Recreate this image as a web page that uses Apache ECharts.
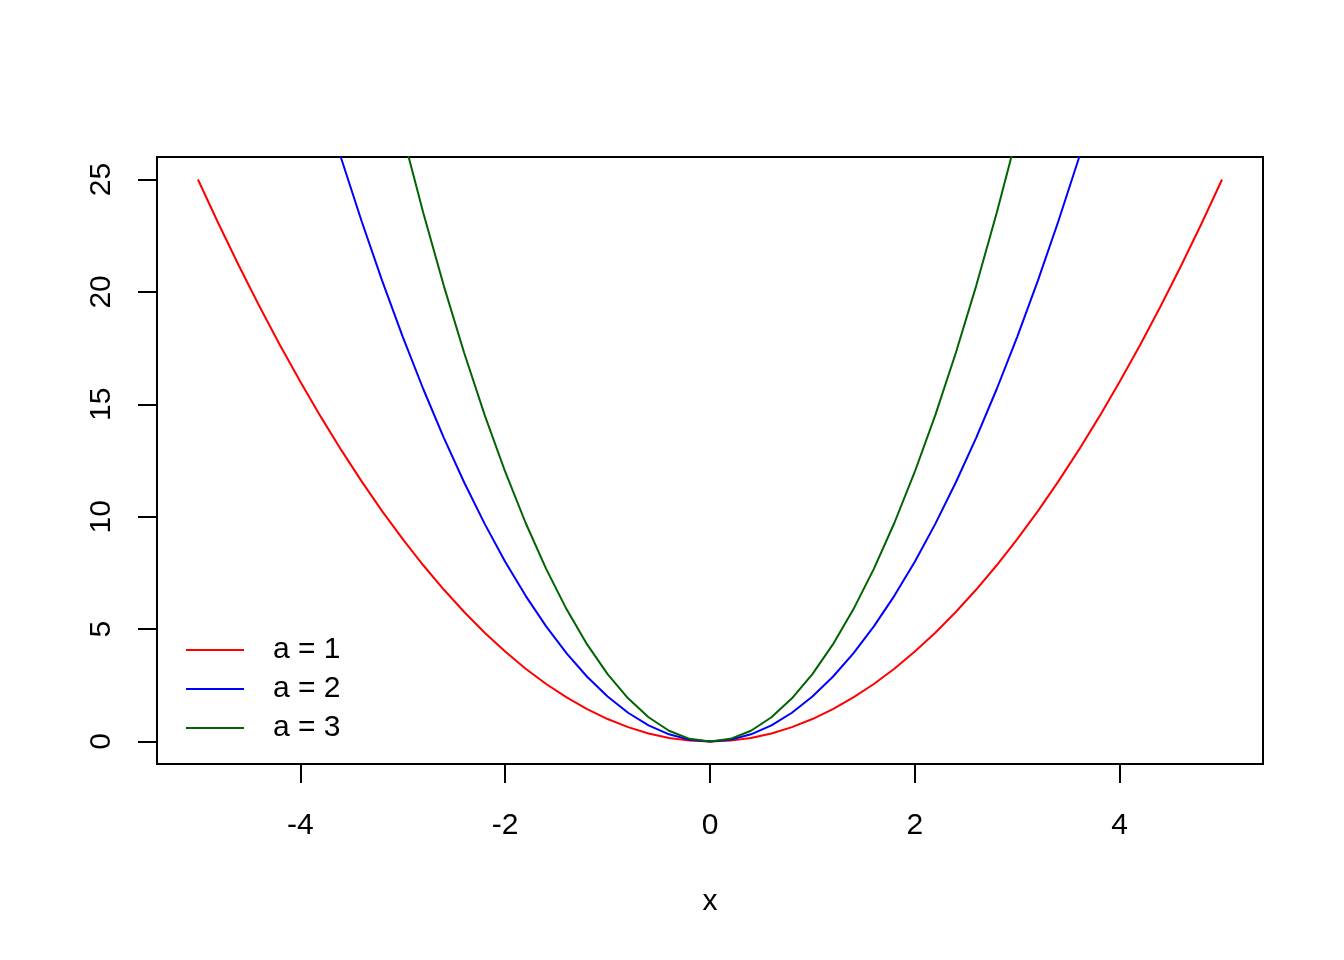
<!DOCTYPE html>
<html>
<head>
<meta charset="utf-8">
<script src="https://cdn.jsdelivr.net/npm/echarts@6/dist/echarts.min.js"></script>
<style>html,body{margin:0;padding:0;background:#fff;}#c{width:1344px;height:960px;}</style>
</head>
<body>
<div id="c"></div>
<script>
const xValues = [-5,-4.8,-4.6,-4.4,-4.2,-4,-3.8,-3.6,-3.4,-3.2,-3,-2.8,-2.6,-2.4,-2.2,-2,-1.8,-1.6,-1.4,-1.2,-1,-0.8,-0.6,-0.4,-0.2,0,0.2,0.4,0.6,0.8,1,1.2,1.4,1.6,1.8,2,2.2,2.4,2.6,2.8,3,3.2,3.4,3.6,3.8,4,4.2,4.4,4.6,4.8,5];
const yA1 = [25,23.04,21.16,19.36,17.64,16,14.44,12.96,11.56,10.24,9,7.84,6.76,5.76,4.84,4,3.24,2.56,1.96,1.44,1,0.64,0.36,0.16,0.04,0,0.04,0.16,0.36,0.64,1,1.44,1.96,2.56,3.24,4,4.84,5.76,6.76,7.84,9,10.24,11.56,12.96,14.44,16,17.64,19.36,21.16,23.04,25];
const yA2 = [null,null,null,null,null,null,28.88,25.92,23.12,20.48,18,15.68,13.52,11.52,9.68,8,6.48,5.12,3.92,2.88,2,1.28,0.72,0.32,0.08,0,0.08,0.32,0.72,1.28,2,2.88,3.92,5.12,6.48,8,9.68,11.52,13.52,15.68,18,20.48,23.12,25.92,28.88,null,null,null,null,null,null];
const yA3 = [null,null,null,null,null,null,null,null,null,null,27,23.52,20.28,17.28,14.52,12,9.72,7.68,5.88,4.32,3,1.92,1.08,0.48,0.12,0,0.12,0.48,1.08,1.92,3,4.32,5.88,7.68,9.72,12,14.52,17.28,20.28,23.52,27,null,null,null,null,null,null,null,null,null,null];
const seriesNames = ['a = 1','a = 2','a = 3'];
const seriesColors = ['#FF0000','#0000FF','#006400'];
const xTicks = [-4,-2,0,2,4];
const yTicks = [0,5,10,15,20,25];

const FONT = 'Liberation Sans, Arial, Helvetica, sans-serif';
function pairs(ys){ return xValues.map((x,i)=>[x, ys[i]]); }
const allY = [yA1, yA2, yA3];

const chart = echarts.init(document.getElementById('c'), null, {renderer:'canvas'});
chart.setOption({
  backgroundColor: '#fff',
  animation: false,
  textStyle: {fontFamily: FONT},
  grid: {left:157, right:81, top:157, bottom:196, show:true, borderColor:'#000', borderWidth:2, backgroundColor:'transparent'},
  legend: {
    orient: 'vertical', left: 186, top: 635, padding: 0,
    itemWidth: 58, itemHeight: 2, itemGap: 9, icon: 'rect',
    textStyle: {fontFamily: FONT, fontSize: 30, color: '#000', lineHeight: 30, padding: [0,0,0,24]},
    data: seriesNames
  },
  xAxis: {
    type: 'value', min: -5.4, max: 5.4,
    name: 'x', nameLocation: 'middle', nameGap: 123,
    nameTextStyle: {fontFamily: FONT, fontSize: 30, color: '#000'},
    axisLine: {show:false, onZero:false},
    splitLine: {show:false},
    axisTick: {show:true, inside:false, length:19, lineStyle:{color:'#000', width:2}, customValues: xTicks},
    axisLabel: {show:true, margin:47, fontSize:30, color:'#000', fontFamily: FONT, customValues: xTicks}
  },
  yAxis: {
    type: 'value', min: -1, max: 26,
    axisLine: {show:false, onZero:false},
    splitLine: {show:false},
    axisTick: {show:true, inside:false, length:19, lineStyle:{color:'#000', width:2}, customValues: yTicks},
    axisLabel: {show:true, margin:40, rotate:90, fontSize:30, color:'#000', fontFamily: FONT, customValues: yTicks}
  },
  series: seriesNames.map((n,i)=>({
    name: n, type: 'line', data: pairs(allY[i]),
    showSymbol: false, symbol: 'none', smooth: false, clip: true,
    connectNulls: false,
    lineStyle: {color: seriesColors[i], width: 2},
    itemStyle: {color: seriesColors[i]}
  }))
});
</script>
</body>
</html>
